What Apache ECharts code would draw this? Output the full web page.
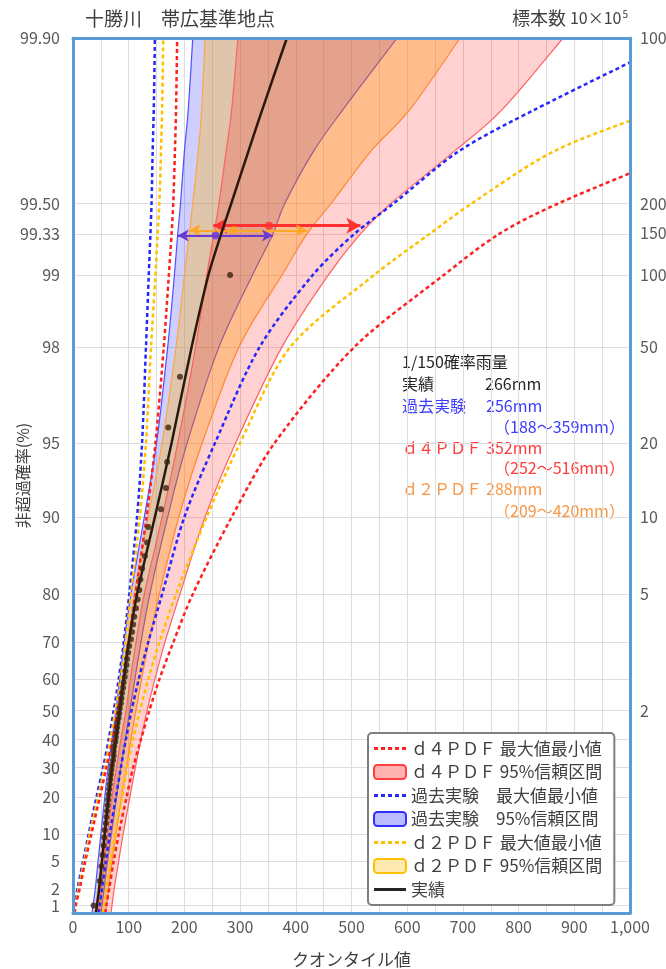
<!DOCTYPE html>
<html>
<head>
<meta charset="utf-8">
<script src="https://cdn.jsdelivr.net/npm/echarts@6/dist/echarts.min.js"></script>
<style>
  html, body { margin: 0; padding: 0; background: #fff; }
  #chart { width: 666px; height: 969px; }
</style>
</head>
<body>
<div id="chart"></div>
<script>
// Non-exceedance probabilities (%) at which every curve is tabulated
const probLevels = [0.7, 1, 2, 5, 10, 20, 30, 40, 50, 60, 70, 80, 90, 95, 98, 99, 99.33, 99.5, 99.7, 99.8, 99.9];

// Quantiles (mm) at each probability level
const jisseki = [41, 43, 47, 52, 57, 64, 70, 77, 84, 91, 100, 115, 147, 177, 213, 243, 266, 284, 315, 340, 384];
const pastLo  = [34, 36, 40, 45, 50, 57, 63, 70, 77, 84, 92, 104, 128, 150, 170, 182, 188, 193, 200, 207, 215];
const pastHi  = [50, 52, 56, 62, 69, 78, 86, 94, 102, 111, 122, 138, 170, 205, 262, 322, 359, 380, 432, 485, 582];
const d2Lo    = [38, 41, 45, 50, 55, 62, 68, 75, 82, 90, 98, 110, 135, 160, 185, 200, 209, 215, 225, 231, 237];
const d2Hi    = [58, 60, 64, 70, 77, 87, 96, 104, 113, 123, 136, 155, 190, 232, 298, 375, 420, 463, 535, 605, 695];
const d4Lo    = [44, 47, 51, 56, 62, 70, 78, 86, 95, 103, 113, 128, 160, 188, 220, 240, 253, 262, 275, 285, 296];
const d4Hi    = [68, 70, 74, 82, 90, 102, 112, 122, 133, 147, 165, 192, 237, 292, 375, 458, 516, 570, 685, 771, 880];
const pastMin = [0, 2, 8, 18, 28, 42, 54, 64, 73, 82, 91, 101, 115, 124, 131, 136, 139, 141, 143, 145, 147];
const d2Min   = [2, 4, 10, 20, 30, 45, 57, 67, 76, 85, 94, 104, 120, 131, 140, 148, 152, 155, 158, 160, 162];
const d4Min   = [3, 5, 12, 22, 33, 48, 60, 71, 80, 90, 100, 112, 132, 148, 163, 172, 177, 180, 183, 185, 187];
const pastMax = [46, 48, 52, 59, 66, 77, 86, 95, 105, 118, 135, 160, 200, 255, 335, 430, 505, 575, 693, 830, 1090];
const d2Max   = [54, 56, 60, 68, 76, 88, 97, 108, 120, 135, 155, 185, 240, 300, 390, 540, 640, 715, 864, 1055, 1380];
const d4Max   = [58, 60, 65, 73, 82, 96, 108, 122, 137, 155, 180, 215, 285, 362, 505, 665, 765, 870, 1100, 1300, 1650];

// Annual maxima (mm), largest first
const observed = [282, 192, 171, 169, 167, 158, 135, 133, 129, 124, 121, 119, 116, 113, 110, 108, 106, 104, 101, 99,
                  97, 96, 94, 93, 91, 90, 88, 87, 86, 84, 83, 82, 80, 79, 78, 77, 76, 74, 73, 73,
                  72, 70, 69, 68, 67, 66, 65, 64, 63, 62, 61, 60, 59, 57, 56, 55, 53, 51, 48, 37];

// 1/150 rainfall: median and range of each ensemble
const period150 = 150;
const range150 = {
  past: { mid: 256, lo: 188, hi: 359 },
  d4:   { mid: 352, lo: 252, hi: 516 },
  d2:   { mid: 288, lo: 209, hi: 420 }
};

// Axis ticks
const leftTickProbs  = [1, 2, 5, 10, 20, 30, 40, 50, 60, 70, 80, 90, 95, 98, 99, 99.33, 99.5, 99.9];
const leftTickLabels = ['1', '2', '5', '10', '20', '30', '40', '50', '60', '70', '80', '90', '95', '98', '99', '99.33', '99.50', '99.90'];
const rightTickPeriods = [2, 5, 10, 20, 50, 100, 150, 200, 1000];
const rightTickLabels  = ['2', '5', '10', '20', '50', '100', '150', '200', '1000'];

// Gumbel reduced variate of a non-exceedance probability in percent
const gz = p => -Math.log(-Math.log(p / 100));
const gzT = T => gz(100 * (1 - 1 / T));

const yMin = -1.6;
const yMax = gz(99.9);

const FONT = '"Noto Sans CJK JP", "Noto Sans", sans-serif';
const GRID_COLOR = '#DDDDDD';
const FRAME_COLOR = '#5B9BD5';

function nearestLabel(values, labels, v) {
  let best = 0;
  for (let i = 1; i < values.length; i++) {
    if (Math.abs(values[i] - v) < Math.abs(values[best] - v)) best = i;
  }
  return labels[best];
}

const leftTickVals = leftTickProbs.map(gz);
const rightTickVals = rightTickPeriods.map(gzT);

function curve(values) {
  return values.map((v, i) => [v, gz(probLevels[i])]);
}

// Catmull-Rom segments through screen points, as SVG path commands
function splineCommands(pts) {
  let d = '';
  for (let i = 0; i < pts.length - 1; i++) {
    const p0 = pts[i - 1] || pts[i];
    const p1 = pts[i];
    const p2 = pts[i + 1];
    const p3 = pts[i + 2] || p2;
    const c1x = p1[0] + (p2[0] - p0[0]) / 6, c1y = p1[1] + (p2[1] - p0[1]) / 6;
    const c2x = p2[0] - (p3[0] - p1[0]) / 6, c2y = p2[1] - (p3[1] - p1[1]) / 6;
    d += ` C${c1x},${c1y} ${c2x},${c2y} ${p2[0]},${p2[1]}`;
  }
  return d;
}

function dashedSeries(name, values, color) {
  return {
    type: 'line', name, data: curve(values),
    xAxisIndex: 0, yAxisIndex: 0,
    symbol: 'none', smooth: 0.3, clip: true, z: 4,
    lineStyle: { color, width: 2.5, type: [4, 3] },
    itemStyle: { color }
  };
}

function bandSeries(name, lo, hi, fill, edge) {
  const pts = probLevels.map((p, i) => [lo[i], hi[i], gz(p)]);
  return {
    type: 'custom', name, data: pts,
    xAxisIndex: 0, yAxisIndex: 0, clip: true, z: 2,
    encode: { x: [0, 1], y: 2 },
    itemStyle: { color: fill, borderColor: edge },
    renderItem: (params, api) => {
      if (params.dataIndex !== 0) return null;
      const loPts = pts.map(d => api.coord([d[0], d[2]]));
      const hiPts = pts.map(d => api.coord([d[1], d[2]])).reverse();
      const loPath = `M${loPts[0][0]},${loPts[0][1]}` + splineCommands(loPts);
      const hiPath = `M${hiPts[0][0]},${hiPts[0][1]}` + splineCommands(hiPts);
      const area = loPath + ` L${hiPts[0][0]},${hiPts[0][1]}` + splineCommands(hiPts) + ' Z';
      return {
        type: 'group',
        children: [
          { type: 'path', shape: { pathData: area }, style: { fill, stroke: null } },
          { type: 'path', shape: { pathData: loPath }, style: { stroke: edge, lineWidth: 1.2, fill: null } },
          { type: 'path', shape: { pathData: hiPath }, style: { stroke: edge, lineWidth: 1.2, fill: null } }
        ]
      };
    }
  };
}

function rangeArrow(r, color, dz, width, headSize) {
  const z = gzT(period150) + dz;
  return [
    {
      type: 'line', data: [], xAxisIndex: 0, yAxisIndex: 0, z: 8, silent: true,
      markLine: {
        silent: true, animation: false,
        symbol: ['arrow', 'arrow'], symbolSize: headSize,
        label: { show: false },
        lineStyle: { color, width, type: 'solid' },
        data: [[{ coord: [r.lo, z] }, { coord: [r.hi, z] }]]
      }
    },
    {
      type: 'scatter', data: [[r.mid, z]], xAxisIndex: 0, yAxisIndex: 0, z: 9,
      symbolSize: 8, itemStyle: { color }, silent: true
    }
  ];
}

// Cunnane plotting positions of the ranked annual maxima
const N = observed.length;
const observedPts = observed.map((v, i) => [v, -Math.log(-Math.log(1 - (i + 1 - 0.4) / (N + 0.2)))]);

const NAME_D4_MM = 'ｄ４ＰＤＦ 最大値最小値';
const NAME_D4_CI = 'ｄ４ＰＤＦ 95%信頼区間';
const NAME_PAST_MM = '過去実験　最大値最小値';
const NAME_PAST_CI = '過去実験　95%信頼区間';
const NAME_D2_MM = 'ｄ２ＰＤＦ 最大値最小値';
const NAME_D2_CI = 'ｄ２ＰＤＦ 95%信頼区間';
const NAME_OBS = '実績';

const C_RED = '#FF2020';
const C_BLUE = '#2626FF';
const C_ORANGE = '#FFC000';

// legend glyphs: a dashed stroke and a solid stroke
const DASH_ICON = 'path://M0,0h4v3h-4z M7,0h4v3h-4z M14,0h4v3h-4z M21,0h4v3h-4z M28,0h4v3h-4z';
const SOLID_ICON = 'path://M0,0h32v3h-32z';

const series = [
  bandSeries(NAME_PAST_CI, pastLo, pastHi, 'rgba(30,30,255,0.22)', '#5050FF'),
  bandSeries(NAME_D2_CI, d2Lo, d2Hi, 'rgba(255,180,0,0.33)', '#FFA640'),
  bandSeries(NAME_D4_CI, d4Lo, d4Hi, 'rgba(255,0,0,0.18)', '#FF6060'),
  dashedSeries(NAME_PAST_MM, pastMin, C_BLUE),
  dashedSeries(NAME_PAST_MM, pastMax, C_BLUE),
  dashedSeries(NAME_D2_MM, d2Min, C_ORANGE),
  dashedSeries(NAME_D2_MM, d2Max, C_ORANGE),
  dashedSeries(NAME_D4_MM, d4Min, C_RED),
  dashedSeries(NAME_D4_MM, d4Max, C_RED),
  {
    type: 'line', name: NAME_OBS, data: curve(jisseki),
    xAxisIndex: 0, yAxisIndex: 0, symbol: 'none', smooth: 0.3, clip: true, z: 6,
    lineStyle: { color: '#2B1A0C', width: 2.5 }, itemStyle: { color: '#2B1A0C' }
  },
  {
    type: 'scatter', name: '実績値', data: observedPts,
    xAxisIndex: 0, yAxisIndex: 0, z: 7, symbolSize: 6,
    itemStyle: { color: '#3A220E' }
  },
  ...rangeArrow(range150.d4, '#FF3030', 0.075, 3, [12, 14]),
  ...rangeArrow(range150.d2, '#FFA726', 0.03, 2, [9, 11]),
  ...rangeArrow(range150.past, '#6A3BD0', -0.02, 2, [9, 11])
];

const chart = echarts.init(document.getElementById('chart'), null, { renderer: 'canvas' });

const option = {
  animation: false,
  backgroundColor: '#ffffff',
  textStyle: { fontFamily: FONT },
  grid: { left: 73, right: 36, top: 38, bottom: 56, containLabel: false, outerBoundsMode: 'none' },
  xAxis: [
    {
      type: 'value', position: 'bottom', min: 0, max: 1000, interval: 50,
      name: 'クオンタイル値', nameLocation: 'middle', nameGap: 38,
      nameTextStyle: { fontSize: 17, color: '#404040', fontFamily: FONT },
      axisLine: { show: false }, axisTick: { show: false },
      axisLabel: {
        fontSize: 16, color: '#595959', margin: 6, fontFamily: FONT, hideOverlap: false,
        formatter: v => (v % 100 === 0 ? (v === 1000 ? '1,000' : String(v)) : '')
      },
      splitLine: { show: true, lineStyle: { color: GRID_COLOR, width: 1 } }
    },
    {
      type: 'value', position: 'top', min: 0, max: 1000, z: 10,
      axisLine: { show: true, onZero: false, lineStyle: { color: FRAME_COLOR, width: 3 } },
      axisTick: { show: false }, axisLabel: { show: false }, splitLine: { show: false }
    },
    {
      type: 'value', position: 'bottom', min: 0, max: 1000, z: 10,
      axisLine: { show: true, onZero: false, lineStyle: { color: FRAME_COLOR, width: 3 } },
      axisTick: { show: false }, axisLabel: { show: false }, splitLine: { show: false }
    }
  ],
  yAxis: [
    {
      type: 'value', position: 'left', min: yMin, max: yMax,
      name: '非超過確率(%)', nameLocation: 'middle', nameGap: 42, nameRotate: 90,
      nameMoveOverlap: false,
      nameTextStyle: { fontSize: 16, color: '#404040', fontFamily: FONT },
      axisLine: { show: false }, axisTick: { show: false, customValues: leftTickVals },
      axisLabel: {
        customValues: leftTickVals, fontSize: 16, color: '#595959', margin: 13, fontFamily: FONT,
        hideOverlap: false,
        formatter: v => nearestLabel(leftTickVals, leftTickLabels, v)
      },
      splitLine: { show: true, lineStyle: { color: GRID_COLOR, width: 1 } }
    },
    {
      type: 'value', position: 'right', min: yMin, max: yMax, z: 10,
      axisLine: { show: true, onZero: false, lineStyle: { color: FRAME_COLOR, width: 3 } },
      axisTick: { show: false, customValues: rightTickVals },
      axisLabel: {
        customValues: rightTickVals, fontSize: 16, color: '#595959', margin: 10, fontFamily: FONT,
        hideOverlap: false,
        formatter: v => nearestLabel(rightTickVals, rightTickLabels, v)
      },
      splitLine: { show: false }
    },
    {
      type: 'value', position: 'left', min: yMin, max: yMax, z: 10,
      axisLine: { show: true, onZero: false, lineStyle: { color: FRAME_COLOR, width: 3 } },
      axisTick: { show: false }, axisLabel: { show: false }, splitLine: { show: false }
    }
  ],
  legend: {
    orient: 'vertical', left: 368, top: 733,
    padding: [7, 12, 7, 5], itemGap: 6.5, itemWidth: 32, itemHeight: 14,
    backgroundColor: '#ffffff', borderColor: '#7F7F7F', borderWidth: 2, borderRadius: 4,
    textStyle: { fontSize: 17, color: '#404040', fontFamily: FONT },
    data: [
      { name: NAME_D4_MM, icon: DASH_ICON, itemStyle: { color: C_RED, borderWidth: 0 } },
      { name: NAME_D4_CI, icon: 'roundRect', itemStyle: { color: 'rgba(255,0,0,0.3)', borderColor: '#FF4040', borderWidth: 2 } },
      { name: NAME_PAST_MM, icon: DASH_ICON, itemStyle: { color: C_BLUE, borderWidth: 0 } },
      { name: NAME_PAST_CI, icon: 'roundRect', itemStyle: { color: 'rgba(60,60,255,0.35)', borderColor: '#3030FF', borderWidth: 2 } },
      { name: NAME_D2_MM, icon: DASH_ICON, itemStyle: { color: C_ORANGE, borderWidth: 0 } },
      { name: NAME_D2_CI, icon: 'roundRect', itemStyle: { color: 'rgba(255,200,60,0.4)', borderColor: '#FFC000', borderWidth: 2 } },
      { name: NAME_OBS, icon: SOLID_ICON, itemStyle: { color: '#262626', borderWidth: 0 } }
    ]
  },
  graphic: [
    { type: 'text', left: 85, top: 9, style: { text: '十勝川　帯広基準地点', font: '19px ' + FONT, fill: '#404040' } },
    {
      type: 'text', right: 38, top: 9,
      style: {
        text: '{a|標本数 }{b|10×10}{s|5}',
        rich: {
          a: { font: '18px ' + FONT, fill: '#404040' },
          b: { font: '16px ' + FONT, fill: '#404040' },
          s: { font: '10px ' + FONT, fill: '#404040', verticalAlign: 'top', padding: [0, 0, 8, 1] }
        }
      }
    },
    {
      type: 'group', left: 402, top: 354,
      children: [
        { type: 'text', x: 0, y: 0, style: { text: '1/150確率雨量', font: '16px ' + FONT, fill: '#262626' } },
        { type: 'text', x: 0, y: 22, style: { text: '実績', font: '16px ' + FONT, fill: '#262626' } },
        { type: 'text', x: 83, y: 22, style: { text: '266mm', font: '16px ' + FONT, fill: '#262626' } },
        { type: 'text', x: 0, y: 44, style: { text: '過去実験', font: '16px ' + FONT, fill: '#3C3CFF' } },
        { type: 'text', x: 84, y: 44, style: { text: '256mm', font: '16px ' + FONT, fill: '#3C3CFF' } },
        { type: 'text', x: 92, y: 65, style: { text: '（188〜359mm）', font: '16px ' + FONT, fill: '#3C3CFF' } },
        { type: 'text', x: 0, y: 86, style: { text: 'ｄ４ＰＤＦ', font: '16px ' + FONT, fill: '#FF3B3B' } },
        { type: 'text', x: 84, y: 86, style: { text: '352mm', font: '16px ' + FONT, fill: '#FF3B3B' } },
        { type: 'text', x: 92, y: 106, style: { text: '（252〜516mm）', font: '16px ' + FONT, fill: '#FF3B3B' } },
        { type: 'text', x: 0, y: 127, style: { text: 'ｄ２ＰＤＦ', font: '16px ' + FONT, fill: '#F79646' } },
        { type: 'text', x: 84, y: 127, style: { text: '288mm', font: '16px ' + FONT, fill: '#F79646' } },
        { type: 'text', x: 92, y: 149, style: { text: '（209〜420mm）', font: '16px ' + FONT, fill: '#F79646' } }
      ]
    }
  ],
  series
};

chart.setOption(option);
</script>
</body>
</html>
